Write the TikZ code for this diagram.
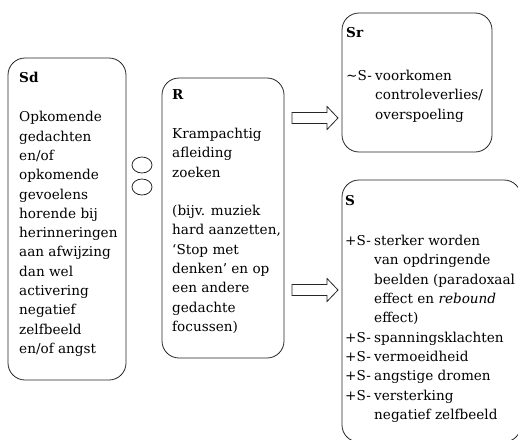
\documentclass[tikz,border=0pt]{standalone}
\usepackage{fontspec}
\setmainfont{DejaVu Serif}
\usetikzlibrary{shapes.geometric}
\newcommand{\itemlbl}[1]{\makebox[29pt][l]{#1}}
\newcommand{\itemind}{\hspace*{29pt}}
\begin{document}
\begin{tikzpicture}[x=1pt,y=-1pt,
  box/.style={draw=black!85, line width=0.8pt, rounded corners=17pt,
    inner sep=0pt, outer sep=0pt, anchor=north west},
  txt/.style={anchor=north west, inner sep=0pt, align=left,
    font=\fontsize{13.6}{19.3}\selectfont},
  link/.style={draw=black!85, line width=0.8pt, ellipse,
    minimum width=20pt, minimum height=16pt, inner sep=0pt},
  blockarrow/.style={draw=black!85, line width=0.8pt, fill=white}]
\useasboundingbox (0,0) rectangle (518,439);
\clip (0,0) rectangle (518,439);

% stimulus box
\node[box, minimum width=118pt, minimum height=322pt] (sd) at (8,58) {};
\node[txt] (sdtext) at (19,72) {\textbf{Sd}\\[20pt]
  Opkomende\\ gedachten\\ en/of\\ opkomende\\ gevoelens\\ horende bij\\
  herinneringen\\ aan afwijzing\\ dan wel\\ activering\\ negatief\\
  zelfbeeld\\ en/of angst};

% the two links between Sd and R
\node[link] (c1) at (142,165) {};
\node[link] (c2) at (142,187) {};

% response box
\node[box, minimum width=122pt, minimum height=280pt] (r) at (162,78) {};
\node[txt] (rtext) at (172,89) {\textbf{R}\\[20pt]
  Krampachtig\\ afleiding\\ zoeken\\[19.3pt]
  (bijv. muziek\\ hard aanzetten,\\ ‘Stop met\\ denken’ en op\\
  een andere\\ gedachte\\ focussen)};

% short-term consequence
\node[box, minimum width=150pt, minimum height=139pt] (sr) at (342,13) {};
\node[txt] (srtext) at (346,27) {\textbf{Sr}\\[24pt]
  \itemlbl{\textasciitilde S-}voorkomen\\
  \itemind controleverlies/\\
  \itemind overspoeling};

% long-term consequences
\node[box, minimum width=179pt, minimum height=262pt] (s) at (342,180) {};
\node[txt] (stext) at (345,195) {\textbf{S}\\[21pt]
  \itemlbl{+S-}sterker worden\\
  \itemind van opdringende\\
  \itemind beelden (paradoxaal\\
  \itemind effect en \textit{rebound}\\
  \itemind effect)\\
  \itemlbl{+S-}spanningsklachten\\
  \itemlbl{+S-}vermoeidheid\\
  \itemlbl{+S-}angstige dromen\\
  \itemlbl{+S-}versterking\\
  \itemind negatief zelfbeeld};

% block arrows from R to its consequences
\coordinate (a1) at ([xshift=8pt]r.east |- 0,118);
\coordinate (a2) at ([xshift=8pt]r.east |- 0,290);
\foreach \a in {a1,a2}{
  \draw[blockarrow] (\a) ++(0,-5.5) -- ++(35,0) -- ++(0,-6) -- ++(11,11.5)
    -- ++(-11,11.5) -- ++(0,-6) -- ++(-35,0) -- cycle;
}
\end{tikzpicture}
\end{document}
